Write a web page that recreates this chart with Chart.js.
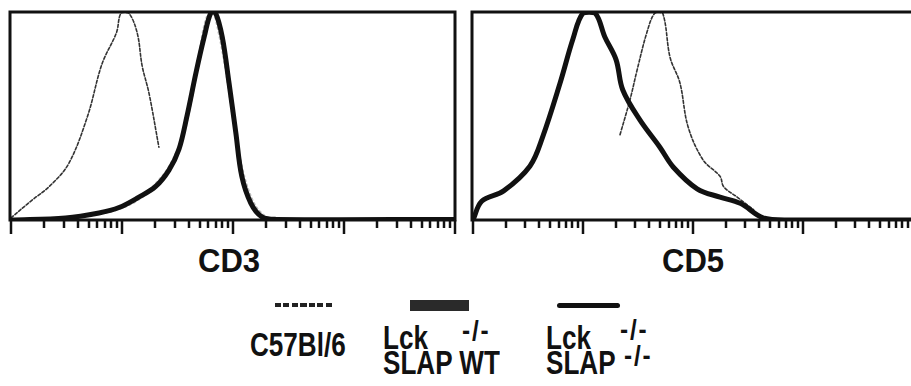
<!DOCTYPE html>
<html>
<head>
<meta charset="utf-8">
<script src="https://cdn.jsdelivr.net/npm/chart.js@4/dist/chart.umd.min.js"></script>
<style>
  body { margin: 0; width: 911px; height: 386px; overflow: hidden; background: #fff; position: relative;
         font-family: "Liberation Sans", Arial, sans-serif; font-weight: bold; color: #111; }
  canvas { position: absolute; top: 0; }
  #cd3Chart { left: 0; }
  #cd5Chart { left: 462px; }
  .t { position: absolute; font-size: 33px; line-height: 1; white-space: nowrap;
       transform-origin: 0 0; transform: scaleX(0.79); }
  .ax { position: absolute; font-size: 33px; line-height: 1; white-space: nowrap;
        transform-origin: 0 0; transform: scaleX(0.94); }
  .sup { position: absolute; font-size: 27px; line-height: 1; letter-spacing: 2px; white-space: nowrap;
         transform-origin: 0 0; transform: scaleX(0.9); }
  .swatch { position: absolute; }
</style>
</head>
<body>
<canvas id="cd3Chart" width="470" height="240"></canvas>
<canvas id="cd5Chart" width="470" height="240"></canvas>

<div class="ax" style="left:198px;top:244px">CD3</div>
<div class="ax" style="left:662px;top:244px">CD5</div>

<div class="swatch" style="left:275px;top:303px;width:59px;height:4px;background:repeating-linear-gradient(90deg,#222 0 6px,transparent 6px 8.5px)"></div>
<div class="swatch" style="left:410px;top:300px;width:59px;height:11px;background:#2a2a2a"></div>
<div class="swatch" style="left:557px;top:303px;width:63px;height:5px;border-radius:3px;background:#111"></div>

<div class="t" style="left:250px;top:328px">C57Bl/6</div>
<div class="t" style="left:383px;top:321px">Lck</div>
<div class="t" style="left:383px;top:346px">SLAP WT</div>
<div class="sup" style="left:462px;top:318px">-/-</div>
<div class="t" style="left:546px;top:321px">Lck</div>
<div class="t" style="left:546px;top:346px">SLAP</div>
<div class="sup" style="left:620px;top:317px">-/-</div>
<div class="sup" style="left:624px;top:343px">-/-</div>

<script>
// CD3 panel
const cd3C57X = [1, 1.55, 2.2, 3.3, 4.9, 6.6, 8.9, 9.8, 11.5, 13.7, 15.2, 17.5, 21.5];
const cd3C57Y = [1, 9.6, 16, 27, 50, 75, 90, 99.5, 99.5, 90, 74, 61, 35];

const cd3WtX = [1, 3, 6, 10, 15, 20, 27, 35, 42, 50, 58, 66, 75, 88, 100, 120, 150, 190, 250];
const cd3WtY = [0, 1, 3, 6, 11, 17, 26, 40, 58, 80, 97, 100, 90, 70, 50, 25, 9, 2, 0];

const cd3KoX = [1, 3.1, 6.2, 9.4, 14.2, 20, 26.5, 32.6, 38.5, 46.5, 55, 63, 69, 80, 92, 106, 120, 145, 182, 245, 10000];
const cd3KoY = [0, 1, 3.4, 6, 11, 16, 24, 34, 50, 71, 88, 99.5, 100, 88, 66, 42, 21, 8, 1.5, 0.3, 0.3];

// CD5 panel
const cd5C57X = [21.7, 26.8, 31, 38, 45, 53, 62, 76, 90, 123, 176, 190, 252, 355];
const cd5C57Y = [41, 58, 72, 90, 99.5, 99.5, 78, 66, 45, 29, 21, 16, 11, 5];

const cd5KoX = [1, 1.2, 1.9, 3.3, 4.3, 6.2, 8.1, 10, 12.9, 15.8, 20, 23, 33, 50, 66, 109, 176, 269, 434, 710, 10000];
const cd5KoY = [0, 9, 14, 26, 40, 66, 87, 99.5, 99.5, 88, 77, 62.5, 48, 35, 25.5, 15, 11, 8, 1, 0, 0];

const tickValues = [];
for (let k = 0; k < 4; k++) {
  for (let m = 1; m < 10; m++) tickValues.push(m * Math.pow(10, k));
}
tickValues.push(10000);

const pts = (xs, ys) => xs.map((x, i) => ({ x: x, y: ys[i] }));

// marco grueso y marcas del eje log
const framePlugin = {
  id: "frame",
  afterDraw(chart) {
    const { ctx, chartArea: a } = chart;
    const sx = chart.scales.x;
    ctx.save();
    ctx.strokeStyle = "#111";
    ctx.lineWidth = 3;
    ctx.strokeRect(a.left - 1, a.top, a.right - a.left + 1, a.bottom - a.top);
    ctx.lineWidth = 2.5;
    tickValues.forEach((v) => {
      const px = Math.round(sx.getPixelForValue(v));
      const major = Math.abs(Math.log10(v) % 1) < 1e-9;
      ctx.beginPath();
      ctx.moveTo(px, a.bottom);
      ctx.lineTo(px, a.bottom + (major ? 14 : 8));
      ctx.stroke();
    });
    ctx.restore();
  },
};

function makeChart(id, datasets, padRight) {
  return new Chart(document.getElementById(id), {
    type: "line",
    data: { datasets: datasets },
    options: {
      responsive: false,
      animation: false,
      layout: { padding: { left: 11, right: padRight, top: 12, bottom: 20 } },
      elements: { point: { radius: 0 }, line: { tension: 0.35, borderCapStyle: "round" } },
      plugins: { legend: { display: false }, tooltip: { enabled: false } },
      scales: {
        x: { type: "logarithmic", min: 1, max: 10000, display: false },
        y: { min: 0, max: 100, display: false },
      },
    },
    plugins: [framePlugin],
  });
}

const koStyle = { borderColor: "#111", borderWidth: 5 };
const c57Style = { borderColor: "#333", borderWidth: 1.6, borderDash: [3, 2] };
const wtStyle = { borderColor: "#bbb", borderWidth: 3, borderDash: [1, 4] };

makeChart("cd3Chart", [
  Object.assign({ label: "Lck-/- SLAP-/-", data: pts(cd3KoX, cd3KoY) }, koStyle),
  Object.assign({ label: "C57Bl/6", data: pts(cd3C57X, cd3C57Y) }, c57Style),
  Object.assign({ label: "Lck-/- SLAP WT", data: pts(cd3WtX, cd3WtY) }, wtStyle),
], 15);

makeChart("cd5Chart", [
  Object.assign({ label: "Lck-/- SLAP-/-", data: pts(cd5KoX, cd5KoY) }, koStyle),
  Object.assign({ label: "C57Bl/6", data: pts(cd5C57X, cd5C57Y) }, c57Style),
], 19);
</script>
</body>
</html>
